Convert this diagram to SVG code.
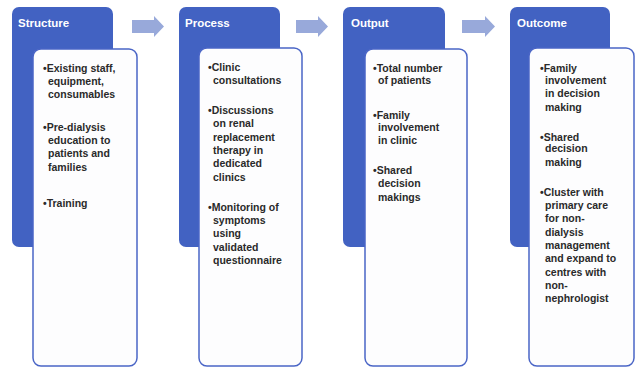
<svg xmlns="http://www.w3.org/2000/svg" width="637" height="371" viewBox="0 0 637 371">
<style>
.blue{fill:#4262c2;}
.card{fill:#fdfdfe;stroke:#4a65c6;stroke-width:1.5;}
.hd{font-family:"Liberation Sans",Arial,sans-serif;font-weight:bold;font-size:11.5px;fill:#ffffff;}
.tx{font-family:"Liberation Sans",Arial,sans-serif;font-weight:bold;font-size:10.5px;fill:#2a2a2a;}
.arr{fill:#98a9da;}
</style>
<rect x="0" y="0" width="637" height="371" fill="#ffffff"/>
<g id="connectors">
<path class="arr" d="M132,20 H154 V16 L164,26.5 L154,37 V33 H132 Z"/>
<path class="arr" d="M296,20 H318 V16 L328,26.5 L318,37 V33 H296 Z"/>
<path class="arr" d="M462,20 H485 V16 L495,26.5 L485,37 V33 H462 Z"/>
</g>
<g id="structure">
<rect class="blue" x="12" y="7" width="101" height="240" rx="7"/>
<text class="hd" x="18" y="27">Structure</text>
<rect class="card" x="33" y="49" width="104" height="317" rx="8"/>
<text class="tx" x="43" y="72">•Existing staff,</text>
<text class="tx" x="48" y="85">equipment,</text>
<text class="tx" x="48" y="98">consumables</text>
<text class="tx" x="43" y="131">•Pre-dialysis</text>
<text class="tx" x="48" y="144">education to</text>
<text class="tx" x="48" y="157">patients and</text>
<text class="tx" x="48" y="171">families</text>
<text class="tx" x="43" y="207">•Training</text>
</g>
<g id="process">
<rect class="blue" x="179" y="7" width="101" height="240" rx="7"/>
<text class="hd" x="185" y="27">Process</text>
<rect class="card" x="199" y="48" width="103" height="318" rx="8"/>
<text class="tx" x="208" y="71">•Clinic</text>
<text class="tx" x="213" y="84">consultations</text>
<text class="tx" x="208" y="114">•Discussions</text>
<text class="tx" x="213" y="127">on renal</text>
<text class="tx" x="213" y="141">replacement</text>
<text class="tx" x="213" y="154">therapy in</text>
<text class="tx" x="213" y="167">dedicated</text>
<text class="tx" x="213" y="181">clinics</text>
<text class="tx" x="208" y="211">•Monitoring of</text>
<text class="tx" x="213" y="224">symptoms</text>
<text class="tx" x="213" y="237">using</text>
<text class="tx" x="213" y="251">validated</text>
<text class="tx" x="213" y="264">questionnaire</text>
</g>
<g id="output">
<rect class="blue" x="343" y="7" width="102" height="240" rx="7"/>
<text class="hd" x="351" y="27">Output</text>
<rect class="card" x="365" y="49" width="102" height="317" rx="8"/>
<text class="tx" x="373" y="72">•Total number</text>
<text class="tx" x="378" y="84">of patients</text>
<text class="tx" x="373" y="119">•Family</text>
<text class="tx" x="378" y="131">involvement</text>
<text class="tx" x="378" y="144">in clinic</text>
<text class="tx" x="373" y="174">•Shared</text>
<text class="tx" x="378" y="187">decision</text>
<text class="tx" x="378" y="201">makings</text>
</g>
<g id="outcome">
<rect class="blue" x="510" y="7" width="100" height="240" rx="7"/>
<text class="hd" x="517" y="27">Outcome</text>
<rect class="card" x="529" y="48" width="105" height="318" rx="8"/>
<text class="tx" x="540" y="72">•Family</text>
<text class="tx" x="545" y="84">involvement</text>
<text class="tx" x="545" y="97">in decision</text>
<text class="tx" x="545" y="111">making</text>
<text class="tx" x="540" y="141">•Shared</text>
<text class="tx" x="545" y="152">decision</text>
<text class="tx" x="545" y="166">making</text>
<text class="tx" x="540" y="196">•Cluster with</text>
<text class="tx" x="545" y="209">primary care</text>
<text class="tx" x="545" y="222">for non-</text>
<text class="tx" x="545" y="236">dialysis</text>
<text class="tx" x="545" y="249">management</text>
<text class="tx" x="545" y="262">and expand to</text>
<text class="tx" x="545" y="276">centres with</text>
<text class="tx" x="545" y="289">non-</text>
<text class="tx" x="545" y="302">nephrologist</text>
</g>
</svg>
